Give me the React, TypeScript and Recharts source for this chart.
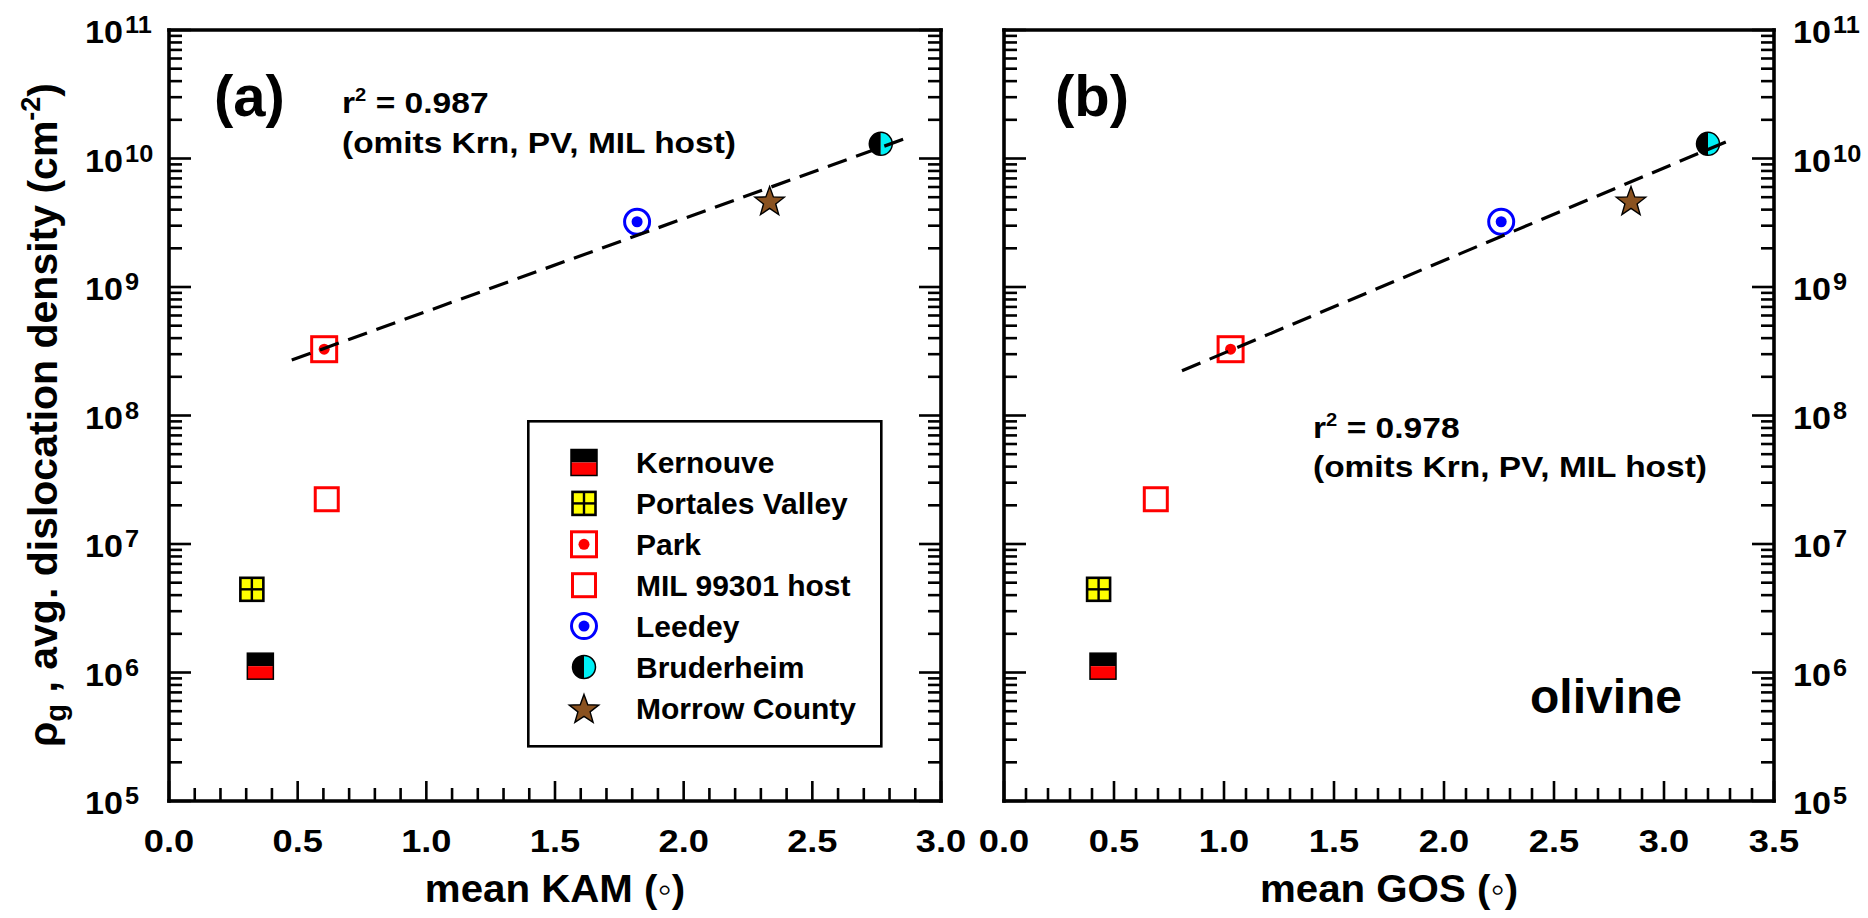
import React from "react";
import { Legend, Scatter, ScatterChart, XAxis, YAxis } from "recharts";

// samples, in legend order
const SAMPLES = [
  "Kernouve",
  "Portales Valley",
  "Park",
  "MIL 99301 host",
  "Leedey",
  "Bruderheim",
  "Morrow County",
];
const MEAN_KAM = [0.355, 0.322, 0.603, 0.613, 1.819, 2.766, 2.334];
const MEAN_GOS = [0.45, 0.43, 1.03, 0.69, 2.26, 3.2, 2.85];
const RHO_G = [1.12e6, 4.44e6, 3.28e8, 2.23e7, 3.22e9, 1.3e10, 4.75e9];

// dashed fits (end points)
const FIT_KAM_X = [0.477, 2.882];
const FIT_KAM_Y = [2.7e8, 1.48e10];
const FIT_GOS_X = [0.809, 3.313];
const FIT_GOS_Y = [2.23e8, 1.42e10];

// major ticks
const KAM_TICKS = [0, 0.5, 1.0, 1.5, 2.0, 2.5, 3.0];
const GOS_TICKS = [0, 0.5, 1.0, 1.5, 2.0, 2.5, 3.0, 3.5];
const RHO_TICKS = [1e5, 1e6, 1e7, 1e8, 1e9, 1e10, 1e11];

const FONT = "Arial, 'Liberation Sans', Helvetica, sans-serif";
const AXIS_LINE = { stroke: "#000", strokeWidth: 3.6, strokeLinecap: "square" as const };

const RED = "#ff0000";
const BLUE = "#0000ff";
const CYAN = "#00f0f5";
const YELLOW = "#ffff00";
const BROWN = "#8a5220";

const withMinorX = (major: number[]) => {
  const out: number[] = [];
  major.forEach((m, i) => {
    out.push(m);
    if (i < major.length - 1) for (let k = 1; k < 5; k++) out.push(Math.round((m + k * 0.1) * 10) / 10);
  });
  return out;
};
const withMinorY = (major: number[]) => {
  const out: number[] = [];
  major.forEach((m, i) => {
    out.push(m);
    if (i < major.length - 1) for (let k = 2; k < 10; k++) out.push(m * k);
  });
  return out;
};

const isHalf = (v: number) => Math.abs(v * 2 - Math.round(v * 2)) < 1e-6;
const isDecade = (v: number) => {
  const l = Math.log10(v);
  return Math.abs(l - Math.round(l)) < 1e-6;
};

type Side = "bottom" | "top" | "left" | "right";

function AxisTick({ x, y, value, side, labels }: { x: number; y: number; value: number; side: Side; labels?: boolean }) {
  const vertical = side === "left" || side === "right";
  const major = vertical ? isDecade(value) : isHalf(value);
  const len = major ? (vertical ? 22 : 20) : 13;
  let x2 = x;
  let y2 = y;
  if (side === "bottom") y2 = y - len;
  else if (side === "top") y2 = y + len;
  else if (side === "left") x2 = x + len;
  else x2 = x - len;
  const exp = Math.round(Math.log10(value));
  return (
    <g>
      <line x1={x} y1={y} x2={x2} y2={y2} stroke="#000" strokeWidth={2.6} />
      {labels && major && side === "bottom" && (
        <text
          transform={`translate(${x},${y + 51}) scale(1.17,1)`}
          textAnchor="middle"
          fontFamily={FONT}
          fontWeight="bold"
          fontSize={31}
          fill="#000"
        >
          {value.toFixed(1)}
        </text>
      )}
      {labels && major && vertical && (
        <text
          transform={`translate(${side === "left" ? x - 84 : x + 19},${y + 13}) scale(1.1,1)`}
          textAnchor="start"
          fontFamily={FONT}
          fontWeight="bold"
          fontSize={31}
          fill="#000"
        >
          10
          <tspan dx={2} dy={-10} fontSize={23}>
            {exp}
          </tspan>
        </text>
      )}
    </g>
  );
}

function Marker({ kind, cx, cy }: { kind: number; cx: number; cy: number }) {
  switch (kind) {
    case 0: // Kernouve
      return (
        <g>
          <rect x={cx - 13} y={cy - 13} width={26} height={13} fill="#000" />
          <rect x={cx - 13} y={cy} width={26} height={13} fill={RED} />
          <rect x={cx - 13} y={cy - 13} width={26} height={26} fill="none" stroke="#000" strokeWidth={1.5} />
        </g>
      );
    case 1: // Portales Valley
      return (
        <g>
          <rect x={cx - 11.5} y={cy - 11.5} width={23} height={23} fill={YELLOW} stroke="#000" strokeWidth={2.6} />
          <line x1={cx} y1={cy - 11.5} x2={cx} y2={cy + 11.5} stroke="#000" strokeWidth={2.4} />
          <line x1={cx - 11.5} y1={cy} x2={cx + 11.5} y2={cy} stroke="#000" strokeWidth={2.4} />
        </g>
      );
    case 2: // Park
      return (
        <g>
          <rect x={cx - 12.5} y={cy - 12.5} width={25} height={25} fill="#fff" stroke={RED} strokeWidth={3} />
          <circle cx={cx} cy={cy} r={5.5} fill={RED} />
        </g>
      );
    case 3: // MIL 99301 host
      return <rect x={cx - 11.5} y={cy - 11.5} width={23} height={23} fill="#fff" stroke={RED} strokeWidth={3} />;
    case 4: // Leedey
      return (
        <g>
          <circle cx={cx} cy={cy} r={12.5} fill="#fff" stroke={BLUE} strokeWidth={3} />
          <circle cx={cx} cy={cy} r={5.5} fill={BLUE} />
        </g>
      );
    case 5: // Bruderheim
      return (
        <g>
          <path d={`M ${cx} ${cy - 11.5} A 11.5 11.5 0 0 0 ${cx} ${cy + 11.5} Z`} fill="#000" />
          <path d={`M ${cx} ${cy - 11.5} A 11.5 11.5 0 0 1 ${cx} ${cy + 11.5} Z`} fill={CYAN} />
          <circle cx={cx} cy={cy} r={11.5} fill="none" stroke="#000" strokeWidth={1.5} />
        </g>
      );
    default: {
      // Morrow County star
      const pts: string[] = [];
      for (let k = 0; k < 10; k++) {
        const r = k % 2 === 0 ? 15.5 : 6.4;
        const a = -Math.PI / 2 + (k * Math.PI) / 5;
        pts.push(`${cx + r * Math.cos(a)},${cy + 2 + r * Math.sin(a)}`);
      }
      return <polygon points={pts.join(" ")} fill={BROWN} stroke="#000" strokeWidth={1.4} strokeLinejoin="miter" />;
    }
  }
}

function LegendBox() {
  return (
    <svg width={356} height={328} style={{ display: "block" }}>
      <rect x={1.3} y={1.3} width={353} height={325} fill="#fff" stroke="#000" strokeWidth={2.6} />
      {SAMPLES.map((name, i) => {
        const cy = 42.5 + i * 40.9;
        return (
          <g key={name}>
            <Marker kind={i} cx={57} cy={cy} />
            <text x={109} y={cy + 10.7} fontFamily={FONT} fontWeight="bold" fontSize={30} fill="#000">
              {name}
            </text>
          </g>
        );
      })}
    </svg>
  );
}

function Panel({
  xs,
  fitX,
  fitY,
  majorX,
  width,
  margin,
  leftLabels,
  rightLabels,
  legend,
}: {
  xs: number[];
  fitX: number[];
  fitY: number[];
  majorX: number[];
  width: number;
  margin: { top: number; right: number; bottom: number; left: number };
  leftLabels: boolean;
  rightLabels: boolean;
  legend?: boolean;
}) {
  const xTicks = withMinorX(majorX);
  const yTicks = withMinorY(RHO_TICKS);
  const xDomain = [majorX[0], majorX[majorX.length - 1]];
  const fit = fitX.map((x, i) => ({ x, y: fitY[i] }));
  return (
    <ScatterChart width={width} height={918} margin={margin}>
      <XAxis
        dataKey="x"
        type="number"
        domain={xDomain}
        allowDataOverflow
        ticks={xTicks}
        interval={0}
        height={1}
        tickSize={0}
        tickMargin={0}
        tickLine={false}
        axisLine={AXIS_LINE}
        tick={(p: any) => <AxisTick x={p.x} y={p.y} value={p.payload.value} side="bottom" labels />}
      />
      <XAxis
        xAxisId="top"
        orientation="top"
        type="number"
        domain={xDomain}
        allowDataOverflow
        ticks={xTicks}
        interval={0}
        height={1}
        tickSize={0}
        tickMargin={0}
        tickLine={false}
        axisLine={AXIS_LINE}
        tick={(p: any) => <AxisTick x={p.x} y={p.y} value={p.payload.value} side="top" />}
      />
      <YAxis
        dataKey="y"
        type="number"
        scale="log"
        domain={[1e5, 1e11]}
        allowDataOverflow
        ticks={yTicks}
        interval={0}
        width={1}
        tickSize={0}
        tickMargin={0}
        tickLine={false}
        axisLine={AXIS_LINE}
        tick={(p: any) => <AxisTick x={p.x} y={p.y} value={p.payload.value} side="left" labels={leftLabels} />}
      />
      <YAxis
        yAxisId="right"
        orientation="right"
        type="number"
        scale="log"
        domain={[1e5, 1e11]}
        allowDataOverflow
        ticks={yTicks}
        interval={0}
        width={1}
        tickSize={0}
        tickMargin={0}
        tickLine={false}
        axisLine={AXIS_LINE}
        tick={(p: any) => <AxisTick x={p.x} y={p.y} value={p.payload.value} side="right" labels={rightLabels} />}
      />
      {SAMPLES.map((name, i) => (
        <Scatter
          key={name}
          name={name}
          data={[{ x: xs[i], y: RHO_G[i] }]}
          isAnimationActive={false}
          shape={(p: any) => <Marker kind={i} cx={p.cx} cy={p.cy} />}
        />
      ))}
      <Scatter
        name="fit"
        data={fit}
        legendType="none"
        isAnimationActive={false}
        line={{ stroke: "#000", strokeWidth: 3.2, strokeDasharray: "20 10" }}
        lineType="joint"
        shape={() => <g />}
      />
      {legend && (
        <Legend
          layout="horizontal"
          verticalAlign="middle"
          align="center"
          wrapperStyle={{ left: 527, top: 420, width: 356, height: 328 }}
          content={() => <LegendBox />}
        />
      )}
    </ScatterChart>
  );
}

const textStyle = { fontFamily: FONT, fontWeight: "bold" as const, fill: "#000" };

// text placed at (x, baseline y), widened a little like the original lettering
function Note({ x, y, size, sx = 1, anchor = "start", children }: any) {
  return (
    <text transform={`translate(${x},${y}) scale(${sx},1)`} fontSize={size} textAnchor={anchor} {...textStyle}>
      {children}
    </text>
  );
}

export default function App() {
  return (
    <div style={{ position: "absolute", left: 0, top: 0, width: 1868, height: 918, background: "#fff", overflow: "hidden" }}>
      <div style={{ position: "absolute", left: 0, top: 0 }}>
        <Panel
          xs={MEAN_KAM}
          fitX={FIT_KAM_X}
          fitY={FIT_KAM_Y}
          majorX={KAM_TICKS}
          width={975}
          margin={{ top: 29, right: 33, bottom: 116, left: 168 }}
          leftLabels
          rightLabels={false}
          legend
        />
      </div>
      <div style={{ position: "absolute", left: 975, top: 0 }}>
        <Panel
          xs={MEAN_GOS}
          fitX={FIT_GOS_X}
          fitY={FIT_GOS_Y}
          majorX={GOS_TICKS}
          width={893}
          margin={{ top: 29, right: 93, bottom: 116, left: 28 }}
          leftLabels={false}
          rightLabels
        />
      </div>
      <svg width={1868} height={918} style={{ position: "absolute", left: 0, top: 0, pointerEvents: "none" }}>
        <Note x={214} y={116} size={58}>(a)</Note>
        <Note x={342} y={113} size={30} sx={1.12}>
          r<tspan dy={-12} fontSize={18}>2</tspan>
          <tspan dy={12}> = 0.987</tspan>
        </Note>
        <Note x={342} y={153} size={30} sx={1.115}>(omits Krn, PV, MIL host)</Note>

        <Note x={1055} y={116} size={58}>(b)</Note>
        <Note x={1313} y={438} size={30} sx={1.12}>
          r<tspan dy={-12} fontSize={18}>2</tspan>
          <tspan dy={12}> = 0.978</tspan>
        </Note>
        <Note x={1313} y={477} size={30} sx={1.115}>(omits Krn, PV, MIL host)</Note>
        <Note x={1530} y={713} size={48}>olivine</Note>

        <Note x={555} y={902} size={38} sx={1.06} anchor="middle">mean KAM (◦)</Note>
        <Note x={1389} y={902} size={38} sx={1.06} anchor="middle">mean GOS (◦)</Note>

        <text transform="translate(57,415) rotate(-90)" x={0} y={0} fontSize={41} textAnchor="middle" {...textStyle}>
          ρ<tspan dy={9} fontSize={29}>g</tspan>
          <tspan dy={-9}> , avg. dislocation density (cm</tspan>
          <tspan dy={-17} fontSize={27}>-2</tspan>
          <tspan dy={17}>)</tspan>
        </text>
      </svg>
    </div>
  );
}
